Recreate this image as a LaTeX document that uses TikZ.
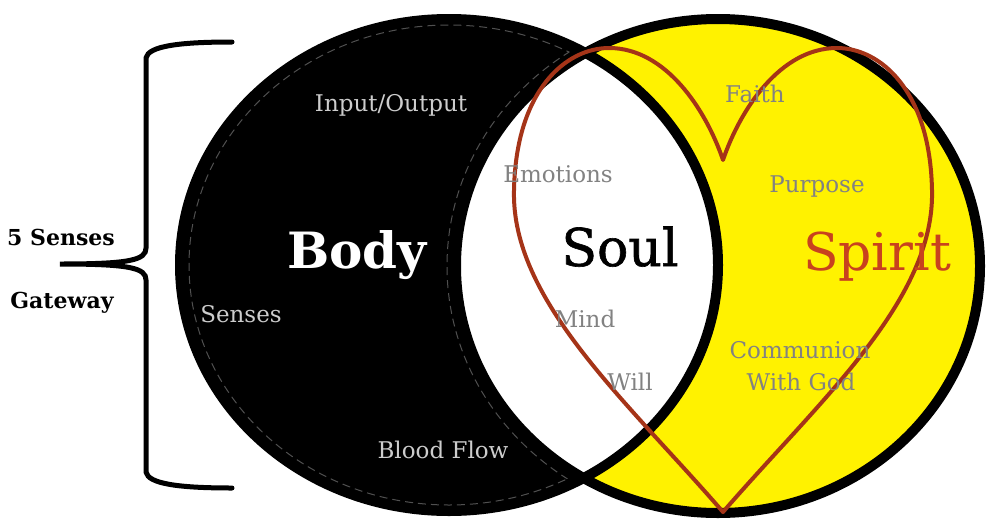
\documentclass[tikz,border=0pt]{standalone}
\usepackage{fontspec}
\setmainfont{DejaVu Serif}
\newfontfamily\soulfont[FakeBold=1.2]{DejaVu Serif}
\usepackage{graphicx}
\definecolor{spiritred}{RGB}{200,66,30}
\definecolor{heartred}{RGB}{165,52,24}
\definecolor{sunyellow}{RGB}{255,242,0}
\definecolor{softgray}{RGB}{130,130,130}
\definecolor{palegray}{RGB}{205,205,205}
\definecolor{stitchgray}{RGB}{80,80,80}
\begin{document}
\begin{tikzpicture}[x=1pt,y=-1pt,
  small/.style={font=\fontsize{23}{25}\selectfont, text=softgray, inner sep=0pt, anchor=base},
  smalllight/.style={small, text=palegray},
  side/.style={font=\bfseries\fontsize{22}{24}\selectfont, inner sep=0pt, anchor=base},
  big/.style={inner sep=0pt, anchor=base},
  rim/.style={line width=10pt},
  stitch/.style={draw=stitchgray, line width=1pt, dash pattern=on 8pt off 5pt},
  bracket/.style={line width=5pt, line cap=round},
  heart/.style={draw=heartred, line width=4pt, line join=round}]
\useasboundingbox (0,0) rectangle (991,520);
\def\leftell{(449,265) ellipse [x radius=269, y radius=246]}
\def\rightell{(718,266) ellipse [x radius=262, y radius=247]}
% body circle
\fill[black] \leftell;
\draw[rim] \leftell;
% stitch lines
\begin{scope}[even odd rule]
  \clip (0,0) rectangle (991,520) (718,266) ellipse [x radius=271, y radius=256];
  \draw[stitch] (449,265) ellipse [x radius=260, y radius=240];
\end{scope}
\begin{scope}
  \clip (449,265) ellipse [x radius=260, y radius=240];
  \draw[stitch] (718,266) ellipse [x radius=271, y radius=256];
\end{scope}
% spirit circle
\fill[sunyellow] \rightell;
% soul intersection
\begin{scope}
  \clip \leftell;
  \fill[white] \rightell;
\end{scope}
\draw[rim] \rightell;
\begin{scope}
  \clip \rightell;
  \draw[rim] \leftell;
\end{scope}
% heart
\draw[heart] (723,512) .. controls (820,400) and (935,300) .. (932,190)
  .. controls (930,90) and (880,48) .. (837,48)
  .. controls (780,48) and (740,110) .. (723,160)
  .. controls (706,110) and (666,48) .. (609,48)
  .. controls (566,48) and (516,90) .. (514,190)
  .. controls (511,300) and (626,400) .. cycle;
% bracket
\draw[bracket] (232,42) .. controls (180,42) and (148,46) .. (146,58)
  -- (146,248) .. controls (146,260) and (130,264) .. (60,264)
  .. controls (130,264) and (146,268) .. (146,280)
  -- (146,472) .. controls (148,484) and (180,488) .. (232,488);
% big labels
\node[big, font=\bfseries\fontsize{50}{54}\selectfont, text=white] (body) at (357,268) {Body};
\node[big, font=\soulfont\fontsize{52}{56}\selectfont, text=black] (soul) at (620,266) {Soul};
\node[big, font=\fontsize{52}{56}\selectfont, text=spiritred] (spirit) at (877,270) {Spirit};
% small labels
\node[smalllight] (io) at (391,111) {Input/Output};
\node[smalllight] (senses) at (241,322) {Senses};
\node[smalllight] (blood) at (443,458) {Blood Flow};
\node[small] (emotions) at (558,182) {Emotions};
\node[small] (mind) at (585,327) {Mind};
\node[small] (will) at (630,390) {Will};
\node[small] (faith) at (755,102) {Faith};
\node[small] (purpose) at (817,192) {Purpose};
\node[small] (communion) at (800,358) {Communion};
\node[small] (withgod) at (801,390) {With God};
% side labels
\node[side] (five) at (61,245) {5 Senses};
\node[side] (gate) at (62,308) {Gateway};
\end{tikzpicture}
\end{document}
